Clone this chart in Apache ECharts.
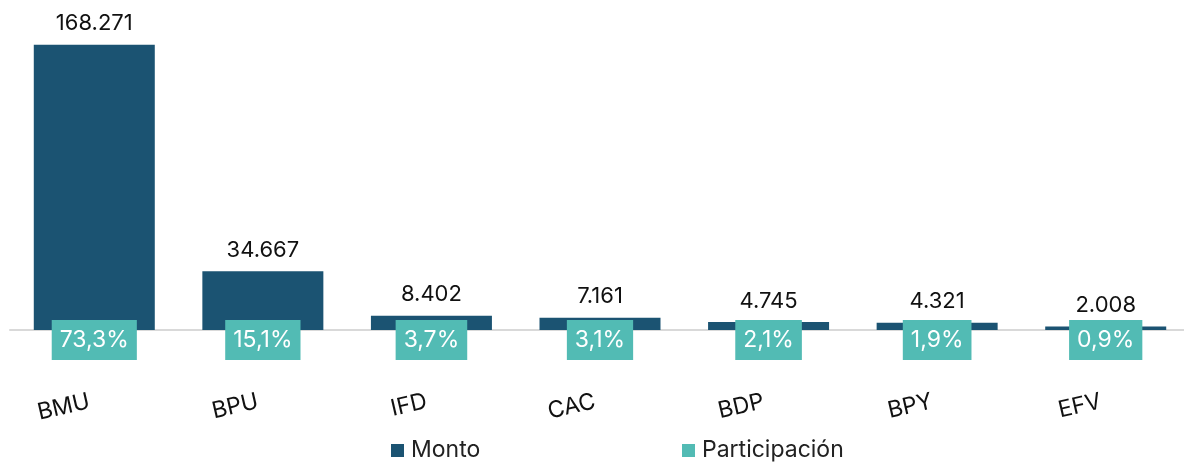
<!DOCTYPE html>
<html lang="es">
<head>
    <meta charset="utf-8">
    <title>Monto y participación</title>
    <script src="https://cdn.jsdelivr.net/npm/echarts@6/dist/echarts.min.js"></script>
    <style>
        html, body { margin: 0; padding: 0; background: #fff; }
        #main { width: 1184px; height: 464px; }
    </style>
</head>
<body>
<div id="main"></div>
<script type="text/javascript">
    var categorias = ['BMU', 'BPU', 'IFD', 'CAC', 'BDP', 'BPY', 'EFV'];
    var monto = [168271, 34667, 8402, 7161, 4745, 4321, 2008];
    var participacion = [73.3, 15.1, 3.7, 3.1, 2.1, 1.9, 0.9];

    var FONT = 'Inter';
    var AZUL = '#1b5372';
    var VERDE = '#52bbb4';

    // miles con punto, decimales con coma
    function miles(v) {
        return String(v).replace(/\B(?=(\d{3})+(?!\d))/g, '.');
    }
    function pct(v) {
        return v.toFixed(1).replace('.', ',') + '%';
    }

    var myChart = echarts.init(document.getElementById('main'));

    myChart.setOption({
        animation: false,
        textStyle: { fontFamily: FONT },
        legend: [{
            data: ['Monto'],
            left: 386,
            top: 434,
            icon: 'rect',
            itemWidth: 13,
            itemHeight: 13,
            textStyle: { fontSize: 23, color: '#222', fontFamily: FONT, padding: [0, 0, 0, 2] }
        }, {
            data: ['Participación'],
            left: 677,
            top: 434,
            icon: 'rect',
            itemWidth: 13,
            itemHeight: 13,
            textStyle: { fontSize: 23, color: '#222', fontFamily: FONT, padding: [0, 0, 0, 2] }
        }],
        grid: { left: 10, width: 1180, top: 25, bottom: 134, containLabel: false, outerBoundsMode: 'none' },
        xAxis: {
            type: 'category',
            data: categorias,
            axisLine: { lineStyle: { color: '#d9d9d9', width: 2 } },
            axisTick: { show: false },
            axisLabel: {
                rotate: 13,
                margin: 70,
                fontSize: 23,
                color: '#111',
                fontFamily: FONT,
                padding: [0, 5, 0, 0]
            }
        },
        yAxis: {
            type: 'value',
            min: 0,
            max: 180000,
            show: false,
            splitLine: { show: false }
        },
        series: [{
            name: 'Monto',
            type: 'bar',
            data: monto,
            barWidth: 121,
            itemStyle: { color: AZUL },
            label: {
                show: true,
                position: 'top',
                distance: 10,
                fontSize: 22,
                color: '#111',
                fontFamily: FONT,
                formatter: function (p) { return miles(p.value); }
            }
        }, {
            name: 'Participación',
            type: 'scatter',
            data: participacion.map(function () { return 0; }),
            symbolSize: 0,
            itemStyle: { color: VERDE, opacity: 1 },
            z: 5,
            label: {
                show: true,
                position: 'inside',
                offset: [0, 10],
                backgroundColor: VERDE,
                padding: [9, 8, 8, 8],
                fontSize: 23,
                color: '#fff',
                fontFamily: FONT,
                formatter: function (p) { return pct(participacion[p.dataIndex]); }
            }
        }]
    });
</script>
</body>
</html>
